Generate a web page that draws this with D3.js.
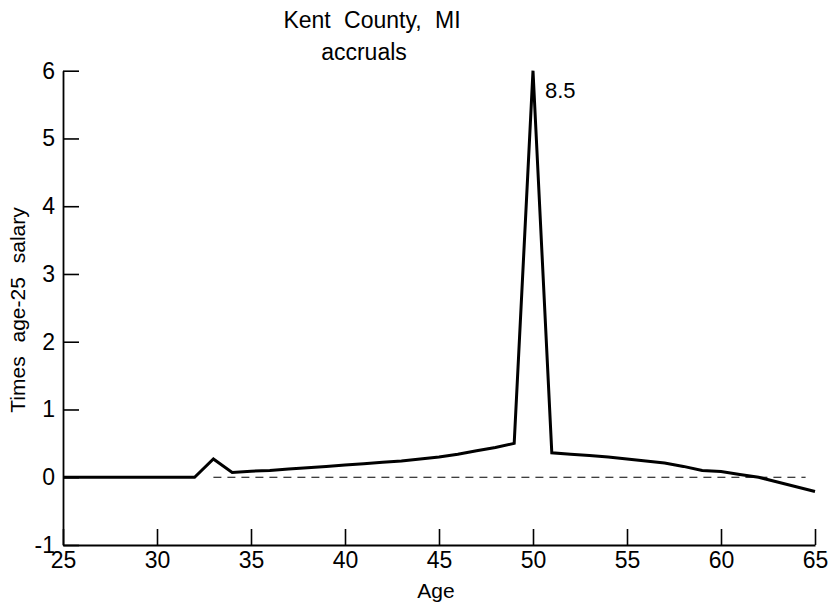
<!DOCTYPE html>
<html>
<head>
<meta charset="utf-8">
<script src="https://cdn.jsdelivr.net/npm/d3@7"></script>
<style>
  html, body { margin: 0; padding: 0; background: #fff; }
  svg { display: block; }
  text { font-family: "Liberation Sans", Arial, sans-serif; fill: #000; }
</style>
</head>
<body>
<svg id="chart" width="832" height="609"></svg>
<script>
// ---- data ----
const ages = [25,26,27,28,29,30,31,32,33,34,35,36,37,38,39,40,41,42,43,44,45,46,47,48,49,50,51,52,53,54,55,56,57,58,59,60,61,62,63,64,65];
const accruals = [0,0,0,0,0,0,0,0,0.27,0.07,0.09,0.10,0.12,0.14,0.16,0.18,0.20,0.22,0.24,0.27,0.30,0.34,0.39,0.44,0.50,8.5,0.36,0.34,0.32,0.30,0.27,0.24,0.21,0.16,0.10,0.085,0.04,0.0,-0.07,-0.14,-0.21];
const xTicks = [25,30,35,40,45,50,55,60,65];
const yTicks = [-1,0,1,2,3,4,5,6];
const refLine = [{age: 33, v: 0}, {age: 64.5, v: 0}];
const titleLines = ["Kent County, MI", "accruals"];
const peakLabel = "8.5";
const xLabel = "Age";
const yLabel = "Times age-25 salary";

// ---- scales ----
const svg = d3.select("#chart");
const x = d3.scaleLinear().domain([25, 65]).range([63, 815]);
const y = d3.scaleLinear().domain([-1, 6]).range([545, 70.7]).clamp(true);

// ---- axes ----
const xAxis = d3.axisBottom(x).tickValues(xTicks).tickFormat(d => String(d))
  .tickSizeInner(-16).tickSizeOuter(0).tickPadding(7);
const yAxis = d3.axisLeft(y).tickValues(yTicks).tickFormat(d => String(d))
  .tickSizeInner(-16).tickSizeOuter(0).tickPadding(8);

const gx = svg.append("g").attr("transform", `translate(0,${y(-1)})`).call(xAxis);
const gy = svg.append("g").attr("transform", `translate(${x(25)},0)`).call(yAxis);

[gx, gy].forEach(g => {
  g.select(".domain").attr("stroke", "#000").attr("stroke-width", 1.8);
  g.selectAll(".tick line").attr("stroke", "#000").attr("stroke-width", 1.6);
  g.selectAll(".tick text").style("font-family", '"Liberation Sans", Arial, sans-serif')
    .style("font-size", "23px").attr("fill", "#000");
});

// ---- reference dashed zero line ----
svg.append("path")
  .datum(refLine)
  .attr("fill", "none")
  .attr("stroke", "#000")
  .attr("stroke-width", 1.1)
  .attr("stroke-dasharray", "8,6")
  .attr("d", d3.line().x(d => x(d.age)).y(d => y(d.v)));

// ---- data line ----
const series = ages.map((a, i) => ({age: a, v: accruals[i]}));
svg.append("path")
  .datum(series)
  .attr("fill", "none")
  .attr("stroke", "#000")
  .attr("stroke-width", 3)
  .attr("stroke-linejoin", "miter")
  .attr("d", d3.line().x(d => x(d.age)).y(d => y(d.v)));

// ---- labels ----
svg.append("text").attr("x", 372).attr("y", 28).attr("text-anchor", "middle")
  .style("font-size", "23px").style("word-spacing", "7px").text(titleLines[0]);
svg.append("text").attr("x", 364).attr("y", 60).attr("text-anchor", "middle")
  .style("font-size", "23px").text(titleLines[1]);

svg.append("text").attr("x", x(50) + 12).attr("y", 98)
  .style("font-size", "22px").text(peakLabel);

svg.append("text").attr("x", 436).attr("y", 598).attr("text-anchor", "middle")
  .style("font-size", "21px").text(xLabel);

svg.append("text")
  .attr("transform", "translate(25,310) rotate(-90)")
  .attr("text-anchor", "middle")
  .style("font-size", "21px")
  .style("word-spacing", "8px")
  .text(yLabel);
</script>
</body>
</html>
